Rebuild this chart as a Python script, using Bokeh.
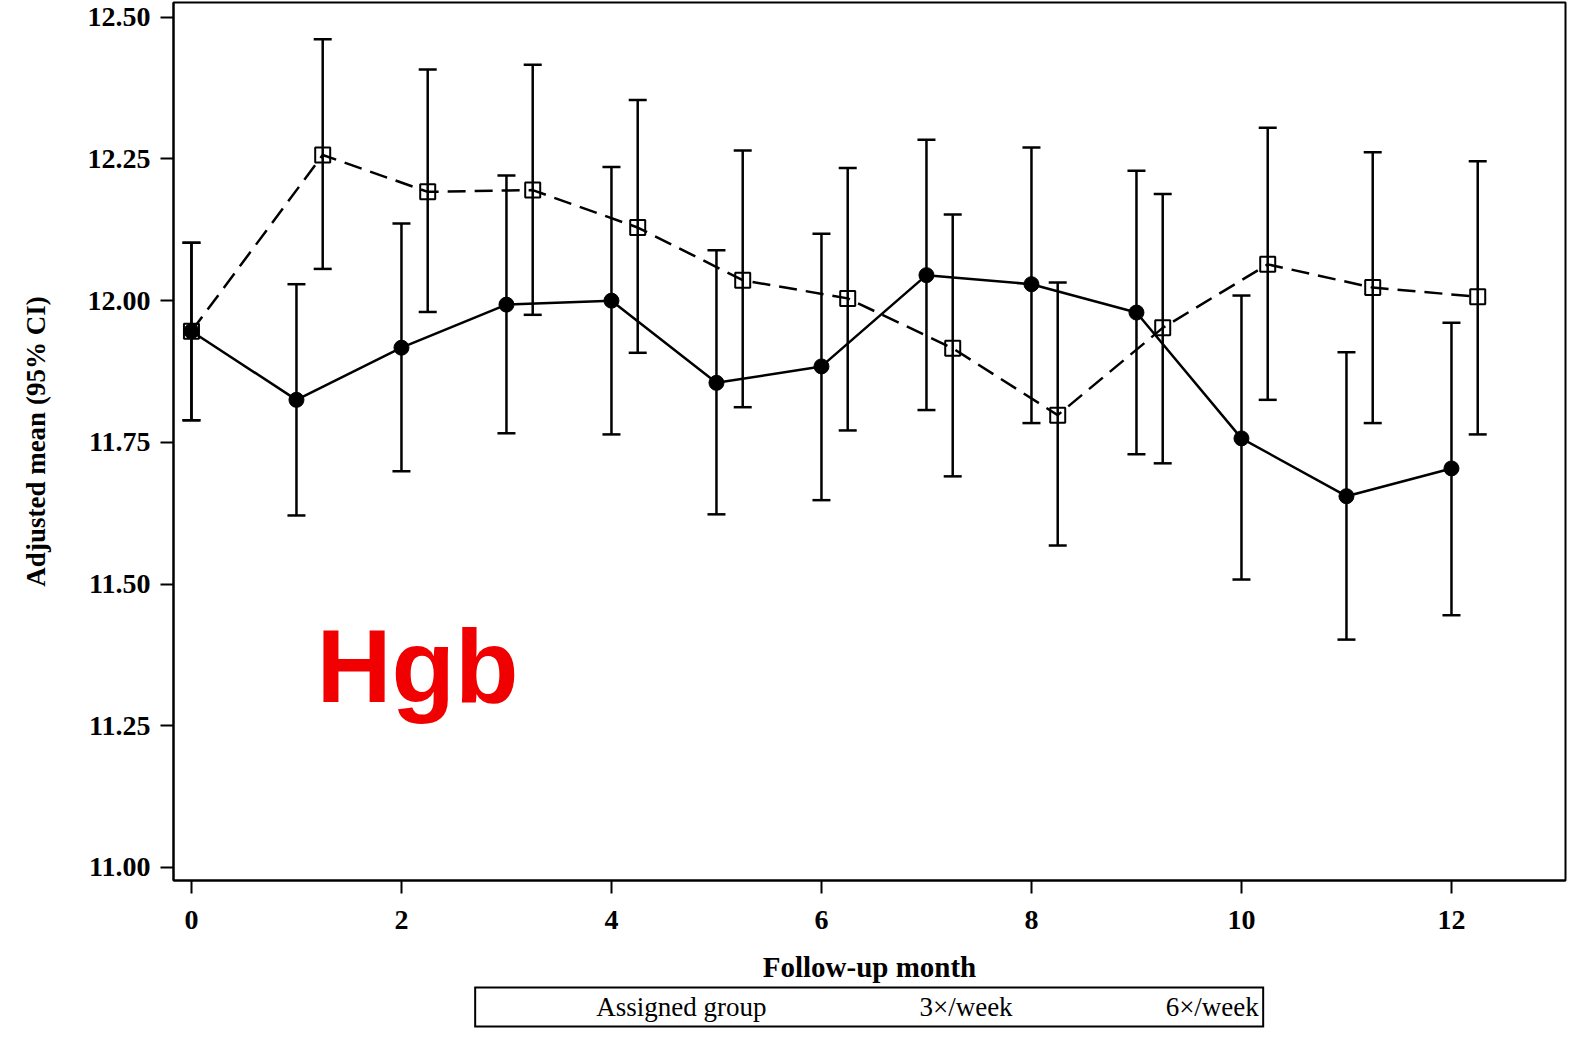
from bokeh.plotting import figure
from bokeh.layouts import column
from bokeh.models import (ColumnDataSource, Range1d, FixedTicker, NumeralTickFormatter,
                          Legend, LegendItem)
from bokeh.core.properties import value
from bokeh.embed import file_html
from bokeh.resources import INLINE

# ---- data ----
months = [0, 1, 2, 3, 4, 5, 6, 7, 8, 9, 10, 11, 12]

mean_3x = [11.946, 11.825, 11.917, 11.993, 12.000, 11.855, 11.884, 12.045, 12.029, 11.979, 11.757, 11.655, 11.704]
upper_3x = [12.102, 12.029, 12.136, 12.221, 12.236, 12.089, 12.118, 12.284, 12.270, 12.229, 12.009, 11.909, 11.961]
lower_3x = [11.789, 11.621, 11.699, 11.766, 11.764, 11.623, 11.648, 11.807, 11.784, 11.729, 11.508, 11.402, 11.445]

mean_6x = [11.946, 12.257, 12.192, 12.195, 12.129, 12.036, 12.004, 11.916, 11.798, 11.952, 12.064, 12.023, 12.007]
upper_6x = [12.102, 12.461, 12.408, 12.416, 12.354, 12.265, 12.234, 12.152, 12.032, 12.188, 12.305, 12.262, 12.246]
lower_6x = [11.789, 12.056, 11.980, 11.975, 11.908, 11.812, 11.771, 11.690, 11.568, 11.713, 11.825, 11.784, 11.764]

# the 6x/week group is drawn a quarter month to the right after baseline
offset_6x = 0.25
x_6x = [m if m == 0 else m + offset_6x for m in months]

x_ticks = [0, 2, 4, 6, 8, 10, 12]
y_ticks = [11.00, 11.25, 11.50, 11.75, 12.00, 12.25, 12.50]

group_title = "Assigned group"
series_labels = ["3\u00d7/week", "6\u00d7/week"]
panel_label = "Hgb"

SERIF = "Liberation Serif"

src3 = ColumnDataSource(dict(x=months, y=mean_3x, upper=upper_3x, lower=lower_3x))
src6 = ColumnDataSource(dict(x=x_6x, y=mean_6x, upper=upper_6x, lower=lower_6x))

p = figure(width=1567, height=985, output_backend="svg", toolbar_location=None,
           x_range=Range1d(-0.171, 13.086), y_range=Range1d(10.977, 12.526),
           min_border_left=173, min_border_right=2, min_border_top=2, min_border_bottom=105)

p.background_fill_color = "white"
p.border_fill_color = "white"
p.outline_line_color = "black"
p.outline_line_width = 2
p.xgrid.visible = False
p.ygrid.visible = False

# error bars: vertical stems plus horizontal caps
for src in (src3, src6):
    p.segment(x0="x", y0="lower", x1="x", y1="upper", source=src,
              line_color="black", line_width=2.5)
    p.scatter("x", "upper", source=src, marker="dash", size=18,
              line_color="black", line_width=2.5)
    p.scatter("x", "lower", source=src, marker="dash", size=18,
              line_color="black", line_width=2.5)

p.line("x", "y", source=src3, line_color="black", line_width=2.5)
p.line("x", "y", source=src6, line_color="black", line_width=2.5, line_dash="18 9")
p.scatter("x", "y", source=src6, marker="square", size=15, fill_color=None,
          line_color="black", line_width=2)
p.scatter("x", "y", source=src3, marker="circle", size=15, fill_color="black",
          line_color="black")

# panel annotation "Hgb"
p.text(x=[1.19], y=[11.355], text=[panel_label], text_color="#f00000",
       text_font=value("Liberation Sans"), text_font_style="bold",
       text_font_size="104px", text_baseline="alphabetic", text_align="left")

# axes
for ax in (p.xaxis[0], p.yaxis[0]):
    ax.axis_line_width = 2
    ax.axis_line_color = "black"
    ax.major_tick_line_width = 2
    ax.major_tick_line_color = "black"
    ax.major_tick_out = 13
    ax.major_tick_in = 0
    ax.minor_tick_out = 0
    ax.minor_tick_in = 0
    ax.major_label_text_font = SERIF
    ax.major_label_text_font_style = "bold"
    ax.major_label_text_font_size = "28px"
    ax.major_label_text_color = "black"
    ax.axis_label_text_font = SERIF
    ax.axis_label_text_font_style = "bold"
    ax.axis_label_text_color = "black"

p.xaxis.ticker = FixedTicker(ticks=x_ticks)
p.yaxis.ticker = FixedTicker(ticks=y_ticks)
p.yaxis.formatter = NumeralTickFormatter(format="0.00")
p.xaxis.axis_label = "Follow-up month"
p.xaxis.axis_label_text_font_size = "29px"
p.xaxis.major_label_standoff = 17
p.xaxis.axis_label_standoff = 19
p.yaxis.axis_label = "Adjusted mean (95% CI)"
p.yaxis.axis_label_text_font_size = "27px"
p.yaxis.major_label_standoff = 10
p.yaxis.axis_label_standoff = 34

# legend strip below the chart (legend-only proxy renderers carry no data)
leg = figure(width=1567, height=44, output_backend="svg", toolbar_location=None,
             x_range=Range1d(0, 1), y_range=Range1d(0, 1),
             x_axis_location=None, y_axis_location=None,
             min_border_left=0, min_border_right=0, min_border_top=0, min_border_bottom=0)
leg.outline_line_color = None
leg.xgrid.visible = False
leg.ygrid.visible = False
leg.background_fill_color = "white"
leg.border_fill_color = "white"
r_title = leg.line(x=[], y=[], line_alpha=0)
r3 = leg.line(x=[], y=[], line_color="black", line_width=2.5)
r6 = leg.line(x=[], y=[], line_color="black", line_width=2.5, line_dash="18 9")

items = [LegendItem(label=group_title, renderers=[r_title]),
         LegendItem(label=series_labels[0], renderers=[r3]),
         LegendItem(label=series_labels[1], renderers=[r6])]
legend = Legend(items=items, orientation="horizontal", location="center",
                label_text_font=SERIF, label_text_font_size="27px", label_text_color="black",
                glyph_width=105, glyph_height=24, label_standoff=12, spacing=36,
                padding=3, margin=0, border_line_color="black", border_line_width=2,
                border_line_alpha=1.0, background_fill_color="white",
                background_fill_alpha=1.0)
leg.add_layout(legend, "center")

layout = column(p, leg, spacing=0)
open("out.html", "w").write(file_html(layout, INLINE))
